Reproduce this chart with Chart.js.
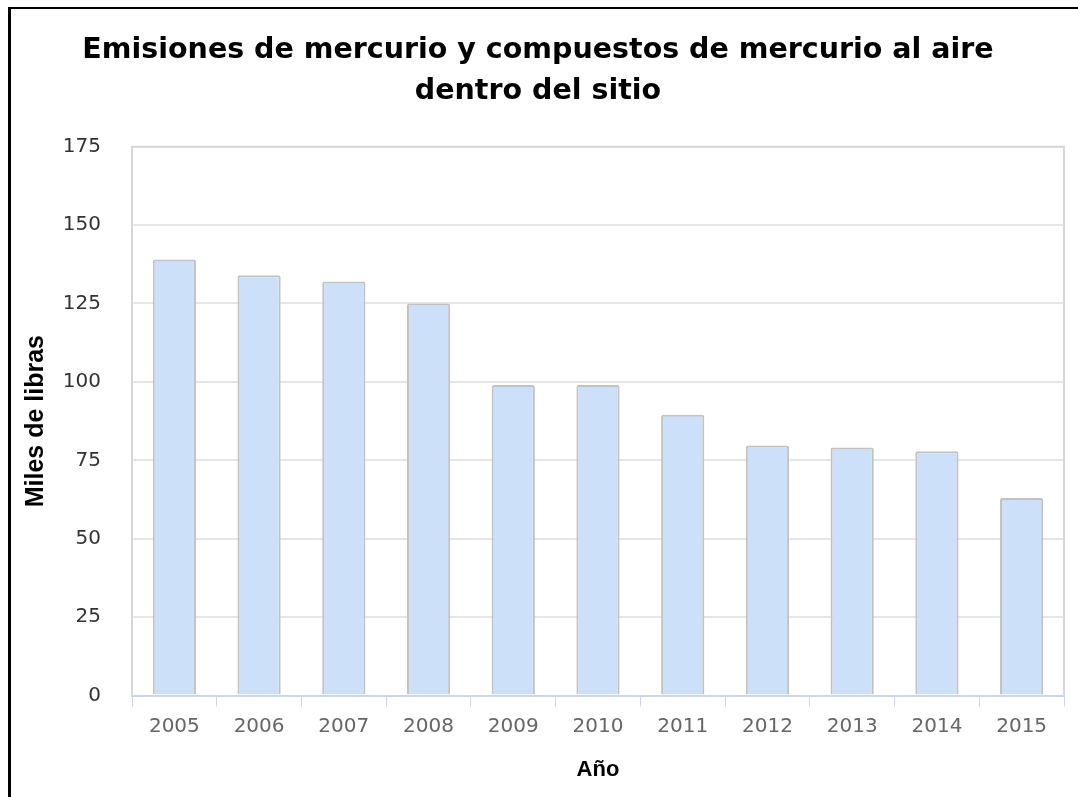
<!DOCTYPE html>
<html>
<head>
<meta charset="utf-8">
<script src="https://cdn.jsdelivr.net/npm/chart.js@4/dist/chart.umd.min.js"></script>
<style>
  html, body { margin: 0; padding: 0; background: #fff; }
  #wrap { position: relative; width: 1078px; height: 797px; }
  #frame { position: absolute; left: 8px; top: 7px; right: -10px; bottom: -10px;
           border-left: 3px solid #000; border-top: 2px solid #000; pointer-events: none; }
</style>
</head>
<body>
<div id="wrap">
  <canvas id="myChart" width="1078" height="797"></canvas>
  <div id="frame"></div>
</div>
<script>
/*** data ***/
const years = ["2005", "2006", "2007", "2008", "2009", "2010", "2011", "2012", "2013", "2014", "2015"];
const emissions = [139, 134, 132, 125, 99, 99, 89.5, 79.7, 79.1, 77.9, 63];
const yTicks = [0, 25, 50, 75, 100, 125, 150, 175];

// grey frame round the plot area (top, left, right)
const plotFrame = {
  id: "plotFrame",
  beforeDatasetsDraw(chart) {
    const a = chart.chartArea;
    const c = chart.ctx;
    c.save();
    c.strokeStyle = "#d8d8d8";
    c.lineWidth = 2;
    c.beginPath();
    c.moveTo(a.left, a.bottom);
    c.lineTo(a.left, a.top);
    c.lineTo(a.right, a.top);
    c.lineTo(a.right, a.bottom);
    c.stroke();
    c.restore();
  },
};

var ctx = document.getElementById("myChart").getContext("2d");
var chart = new Chart(ctx, {
  type: "bar",
  data: {
    labels: years,
    datasets: [
      {
        label: "Miles de libras",
        data: emissions,
        backgroundColor: "#cce0f9",
        borderColor: "#c2c2c2",
        borderWidth: 2,
        borderSkipped: "bottom",
        borderRadius: 2,
        categoryPercentage: 1,
        barPercentage: 0.51,
      },
    ],
  },
  options: {
    responsive: false,
    animation: false,
    layout: { padding: { left: 12, right: 14, top: 10, bottom: 0 } },
    plugins: {
      legend: { display: false },
      tooltip: { enabled: false },
      title: {
        display: true,
        text: ["Emisiones de mercurio y compuestos de mercurio al aire", "dentro del sitio"],
        color: "#000",
        font: { family: "DejaVu Sans", size: 28.5, weight: "bold", lineHeight: 1.45 },
        padding: { top: 20, bottom: 34 },
      },
    },
    scales: {
      x: {
        grid: {
          offset: true,
          drawOnChartArea: false,
          drawTicks: true,
          tickLength: 11,
          color: "#ccd6eb",
        },
        border: { display: true, color: "#ccd6eb", width: 2 },
        ticks: {
          color: "#666",
          padding: 8,
          font: { family: "DejaVu Sans", size: 20 },
        },
        title: {
          display: true,
          text: "Año",
          color: "#000",
          font: { family: "Liberation Sans", size: 22, weight: "bold" },
          padding: { top: 10, bottom: 14 },
        },
      },
      y: {
        min: 0,
        max: 175,
        afterBuildTicks(axis) {
          axis.ticks = yTicks.map((v) => ({ value: v }));
        },
        afterFit(axis) {
          axis.width = 120;
        },
        grid: { color: "#e6e6e6", lineWidth: 2, drawTicks: false },
        border: { display: false },
        ticks: {
          color: "#333",
          padding: 31,
          font: { family: "DejaVu Sans", size: 20 },
        },
        title: {
          display: true,
          text: "Miles de libras",
          color: "#000",
          font: { family: "Liberation Sans", size: 25, weight: "bold" },
          padding: { top: 9, bottom: 0 },
        },
      },
    },
  },
  plugins: [plotFrame],
});
</script>
</body>
</html>
